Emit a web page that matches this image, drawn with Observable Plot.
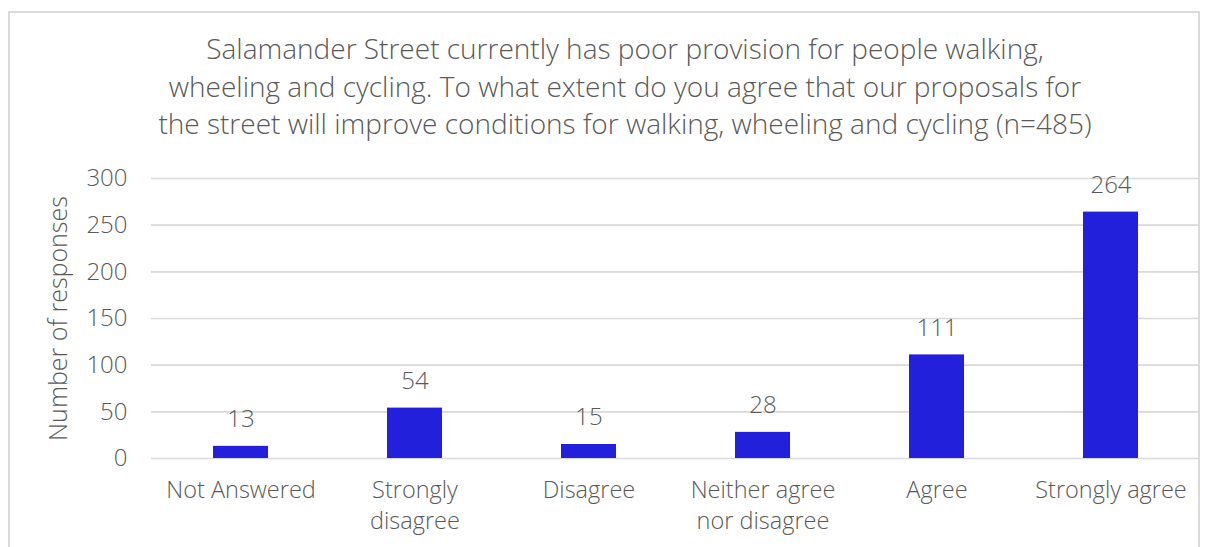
<!DOCTYPE html>
<html>
<head>
<meta charset="utf-8">
<script src="https://cdn.jsdelivr.net/npm/d3@7"></script>
<script src="https://cdn.jsdelivr.net/npm/@observablehq/plot@0.6"></script>
<style>
  html, body { margin: 0; padding: 0; background: #fff; overflow: hidden; }
  #frame { position: absolute; left: 8px; top: 11px; width: 1192px; height: 600px; border: 2px solid #d9d9d9; box-sizing: border-box; }
  #title { position: absolute; left: 0; width: 1250px; top: 30px; text-align: center; font-family: "Open Sans", sans-serif; font-weight: 300; font-size: 28px; line-height: 37.5px; color: #595959; }
  #chart { position: absolute; left: 0; top: 0; }
</style>
</head>
<body>
<div id="frame"></div>
<div id="title">Salamander Street currently has poor provision for people walking,<br>wheeling and cycling. To what extent do you agree that our proposals for<br>the street will improve conditions for walking, wheeling and cycling (n=485)</div>
<div id="chart"></div>
<script>
const categories = ["Not Answered", "Strongly\ndisagree", "Disagree", "Neither agree\nnor disagree", "Agree", "Strongly agree"];
const responses = [13, 54, 15, 28, 111, 264];
const yTicks = [0, 50, 100, 150, 200, 250, 300];
const yLabel = "Number of responses";

const data = categories.map((c, i) => ({category: c, value: responses[i]}));
const grey = "#595959";
const font = "Open Sans, sans-serif";

const chart = Plot.plot({
  width: 1214,
  height: 547,
  marginLeft: 151,
  marginRight: 15,
  marginTop: 178,
  marginBottom: 89,
  style: {fontFamily: font, background: "transparent", overflow: "visible"},
  x: {domain: categories, paddingInner: 0.685, paddingOuter: 0.3425},
  y: {domain: [0, 300]},
  marks: [
    Plot.gridY(yTicks, {stroke: "#d9d9d9", strokeOpacity: 1, strokeWidth: 1.6}),
    Plot.barY(data, {x: "category", y: "value", fill: "#2320dc"}),
    Plot.text(data, {x: "category", y: "value", text: d => String(d.value), dy: -27, fontSize: 24, fill: grey, fontWeight: 300}),
    Plot.axisY({ticks: yTicks, tickSize: 0, tickPadding: 24, fontSize: 24, color: grey, label: yLabel, labelAnchor: "center", labelArrow: "none", labelOffset: 102, fontWeight: 300}),
    Plot.axisX({tickSize: 0, tickPadding: 17, fontSize: 23.5, color: grey, label: null, lineHeight: 1.32, fontWeight: 300})
  ]
});
chart.querySelectorAll('[aria-label="y-axis label"] text').forEach(t => { t.setAttribute("font-size", "25"); t.style.fontSize = "25px"; });
document.getElementById("chart").appendChild(chart);
</script>
</body>
</html>
